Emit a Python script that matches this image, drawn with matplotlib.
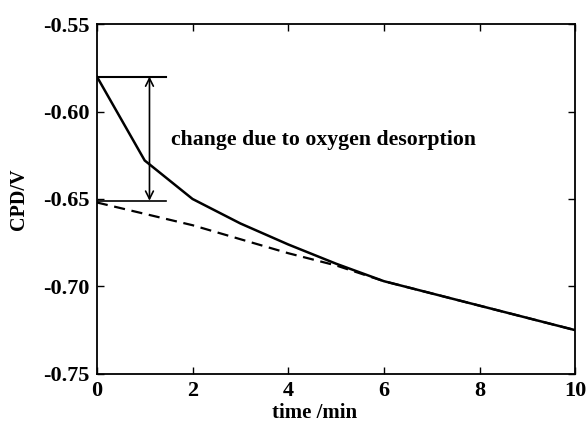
import matplotlib
matplotlib.use("Agg")
import matplotlib.pyplot as plt

# data
time_min = [0, 1, 2, 3, 4, 5, 6, 7, 8, 9, 10]
cpd_measured = [-0.580, -0.628, -0.650, -0.664, -0.676, -0.687, -0.697, -0.704, -0.711, -0.718, -0.725]
time_base = [0, 2, 4, 5, 6, 7, 8, 9, 10]
cpd_baseline = [-0.652, -0.665, -0.681, -0.688, -0.697, -0.704, -0.711, -0.718, -0.725]

level_top = -0.580
level_bottom = -0.651
bracket_end = 1.45
arrow_x = 1.1
note = "change due to oxygen desorption"

plt.rcParams['font.family'] = ['Liberation Serif', 'DejaVu Serif']
plt.rcParams['font.weight'] = 'bold'

fig = plt.figure(figsize=(5.87, 4.22), dpi=100)
ax = fig.add_axes([0.165, 0.114, 0.815, 0.829])

ax.plot(time_min, cpd_measured, '-', color='black', lw=1.8)
ax.plot(time_base, cpd_baseline, '--', color='black', lw=1.6, dashes=(5, 3))

# bracket marking the desorption step
ax.plot([0, bracket_end], [level_top, level_top], '-', color='black', lw=1.5)
ax.plot([0, bracket_end], [level_bottom, level_bottom], '-', color='black', lw=1.2)
ax.annotate('', xy=(arrow_x, level_top), xytext=(arrow_x, level_bottom),
            arrowprops=dict(arrowstyle='<->', color='black', lw=1.2,
                            shrinkA=0, shrinkB=0, mutation_scale=14))
ax.text(1.55, -0.616, note, fontsize=15.7, fontweight='bold', va='center')

ax.set_xlim(0, 10)
ax.set_ylim(-0.75, -0.55)
ax.set_xticks([0, 2, 4, 6, 8, 10])
ax.set_yticks([-0.75, -0.70, -0.65, -0.60, -0.55])
ax.set_yticklabels(['-0.75', '-0.70', '-0.65', '-0.60', '-0.55'])
ax.tick_params(direction='in', top=True, right=True, length=5, width=1,
               labelsize=16, pad=5)
for lab in ax.get_xticklabels() + ax.get_yticklabels():
    lab.set_fontweight('bold')
for sp in ax.spines.values():
    sp.set_linewidth(1.3)

ax.set_xlabel('time /min', fontsize=15, fontweight='bold')
ax.xaxis.set_label_coords(0.455, -0.084)
ax.set_ylabel('CPD/V', fontsize=14.5, fontweight='bold')
ax.yaxis.set_label_coords(-0.142, 0.5)

fig.savefig('out.png', dpi=100)
